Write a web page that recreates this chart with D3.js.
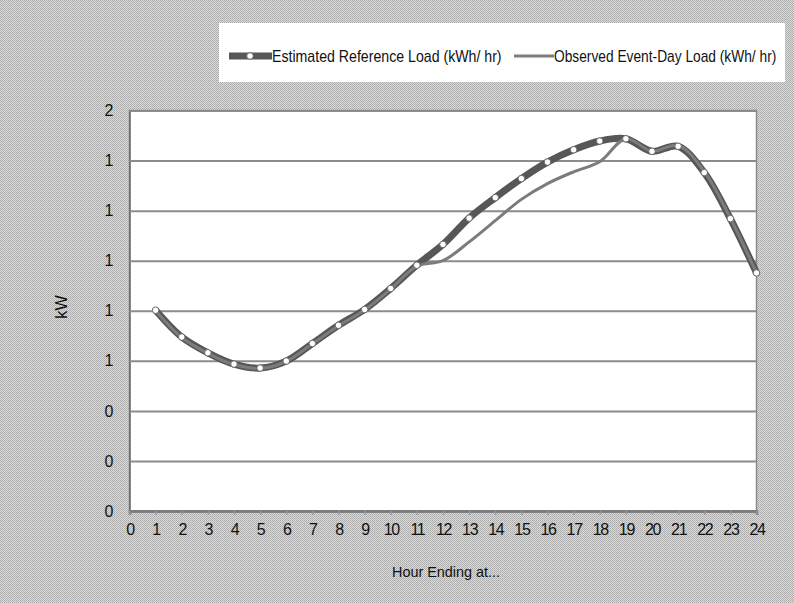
<!DOCTYPE html>
<html>
<head>
<meta charset="utf-8">
<script src="https://cdn.jsdelivr.net/npm/d3@7"></script>
<style>
  body { margin: 0; background: #c4c4c4; }
  text { font-family: "Liberation Sans", Arial, sans-serif; fill: #111; }
</style>
</head>
<body>
<div id="chart"></div>
<script>
// hours 1..24, loads in kW
const hours = d3.range(1, 25);
const estimated = [0.802, 0.695, 0.632, 0.587, 0.571, 0.599, 0.669, 0.742, 0.805, 0.889,
  0.982, 1.065, 1.170, 1.252, 1.328, 1.394, 1.443, 1.478, 1.487, 1.437, 1.457, 1.352, 1.168, 0.951];
const observed = [0.800, 0.693, 0.630, 0.585, 0.570, 0.598, 0.668, 0.740, 0.803, 0.887,
  0.978, 1.000, 1.075, 1.160, 1.245, 1.308, 1.355, 1.395, 1.487, 1.437, 1.460, 1.356, 1.170, 0.951];
const yTicks = [0, 0.2, 0.4, 0.6, 0.8, 1.0, 1.2, 1.4, 1.6];
const xTicks = d3.range(0, 25);
const seriesNames = ["Estimated Reference Load (kWh/ hr)", "Observed Event-Day Load (kWh/ hr)"];

const width = 794, height = 603;
const margin = { top: 110.5, right: 37.5, bottom: 92, left: 129.5 };

const svg = d3.select("#chart").append("svg")
  .attr("width", width)
  .attr("height", height);

// dithered gray background
const defs = svg.append("defs");
const pat = defs.append("pattern")
  .attr("id", "dither")
  .attr("width", 2).attr("height", 2)
  .attr("patternUnits", "userSpaceOnUse");
pat.append("rect").attr("width", 2).attr("height", 2).attr("fill", "#dadada");
pat.append("rect").attr("width", 1).attr("height", 1).attr("fill", "#a9a9a9");
pat.append("rect").attr("x", 1).attr("y", 1).attr("width", 1).attr("height", 1).attr("fill", "#b4b4b4");

svg.append("rect")
  .attr("width", width).attr("height", height)
  .attr("fill", "url(#dither)");

let x = d3.scaleLinear()
  .domain([0, 24])
  .range([margin.left, width - margin.right]);

let y = d3.scaleLinear()
  .domain([0, 1.6])
  .range([height - margin.bottom, margin.top]);

// plot area
svg.append("rect")
  .attr("x", x(0)).attr("y", y(1.6))
  .attr("width", x(24) - x(0)).attr("height", y(0) - y(1.6))
  .attr("fill", "#fff")
  .attr("stroke", "#8a8a8a")
  .attr("stroke-width", 1.5);

// gridlines + y labels
let yAxis = d3.axisLeft(y)
  .tickValues(yTicks)
  .tickSize(-(x(24) - x(0)))
  .tickPadding(16)
  .tickFormat(d3.format(".0f"));

let gy = svg.append("g")
  .attr("transform", `translate(${x(0)},0)`)
  .call(yAxis);
gy.select(".domain").attr("stroke", "#6a6a6a").attr("stroke-width", 1.5);
gy.selectAll(".tick line").attr("stroke", "#8c8c8c").attr("stroke-width", 2);
gy.selectAll(".tick text").style("font-size", "16px");

// x axis
let xAxis = d3.axisBottom(x)
  .tickValues(xTicks)
  .tickSize(4)
  .tickPadding(9);

let gx = svg.append("g")
  .attr("transform", `translate(0,${y(0)})`)
  .call(xAxis);
gx.select(".domain").attr("stroke", "#7a7a7a").attr("stroke-width", 2.5);
gx.selectAll(".tick line").attr("stroke", "#9a9a9a").attr("stroke-width", 1.5);
gx.selectAll(".tick text").style("font-size", "16px").attr("letter-spacing", "-1.3px");

// condensed text: squeeze horizontally instead of stretching glyph spacing
function narrowText(parent, tx, ty, sx, size, str) {
  return parent.append("text")
    .attr("transform", `translate(${tx},${ty}) scale(${sx},1)`)
    .style("font-size", size + "px")
    .text(str);
}

// axis titles
svg.append("text")
  .attr("transform", `translate(67,307) rotate(-90) scale(0.95,1)`)
  .attr("text-anchor", "middle")
  .style("font-size", "17px")
  .text("kW");

narrowText(svg, 392, 577, 0.96, 15, "Hour Ending at...");

// lines
const line = d3.line()
  .x((d, i) => x(hours[i]))
  .y(d => y(d))
  .curve(d3.curveCatmullRom.alpha(0.5));

svg.append("path")
  .datum(estimated)
  .attr("fill", "none")
  .attr("stroke", "#575757")
  .attr("stroke-width", 7)
  .attr("stroke-linejoin", "round")
  .attr("d", line);

svg.append("path")
  .datum(observed)
  .attr("fill", "none")
  .attr("stroke", "#7c7c7c")
  .attr("stroke-width", 3)
  .attr("stroke-linejoin", "round")
  .attr("d", line);

svg.selectAll("circle.marker")
  .data(estimated)
  .enter()
  .append("circle")
  .attr("class", "marker")
  .attr("cx", (d, i) => x(hours[i]))
  .attr("cy", d => y(d))
  .attr("r", 3.3)
  .attr("fill", "#fff")
  .attr("stroke", "#666")
  .attr("stroke-width", 1);

// legend
const lg = svg.append("g");
lg.append("rect")
  .attr("x", 219).attr("y", 23)
  .attr("width", 566).attr("height", 59)
  .attr("fill", "#fff");

lg.append("line")
  .attr("x1", 229).attr("x2", 272).attr("y1", 56).attr("y2", 56)
  .attr("stroke", "#575757").attr("stroke-width", 7);
lg.append("circle")
  .attr("cx", 250).attr("cy", 56).attr("r", 3.3)
  .attr("fill", "#fff").attr("stroke", "#666");
narrowText(lg, 272, 62, 0.885, 16, seriesNames[0]);

lg.append("line")
  .attr("x1", 514).attr("x2", 554).attr("y1", 56).attr("y2", 56)
  .attr("stroke", "#7c7c7c").attr("stroke-width", 3);
narrowText(lg, 554, 62, 0.86, 16, seriesNames[1]);
</script>
</body>
</html>
